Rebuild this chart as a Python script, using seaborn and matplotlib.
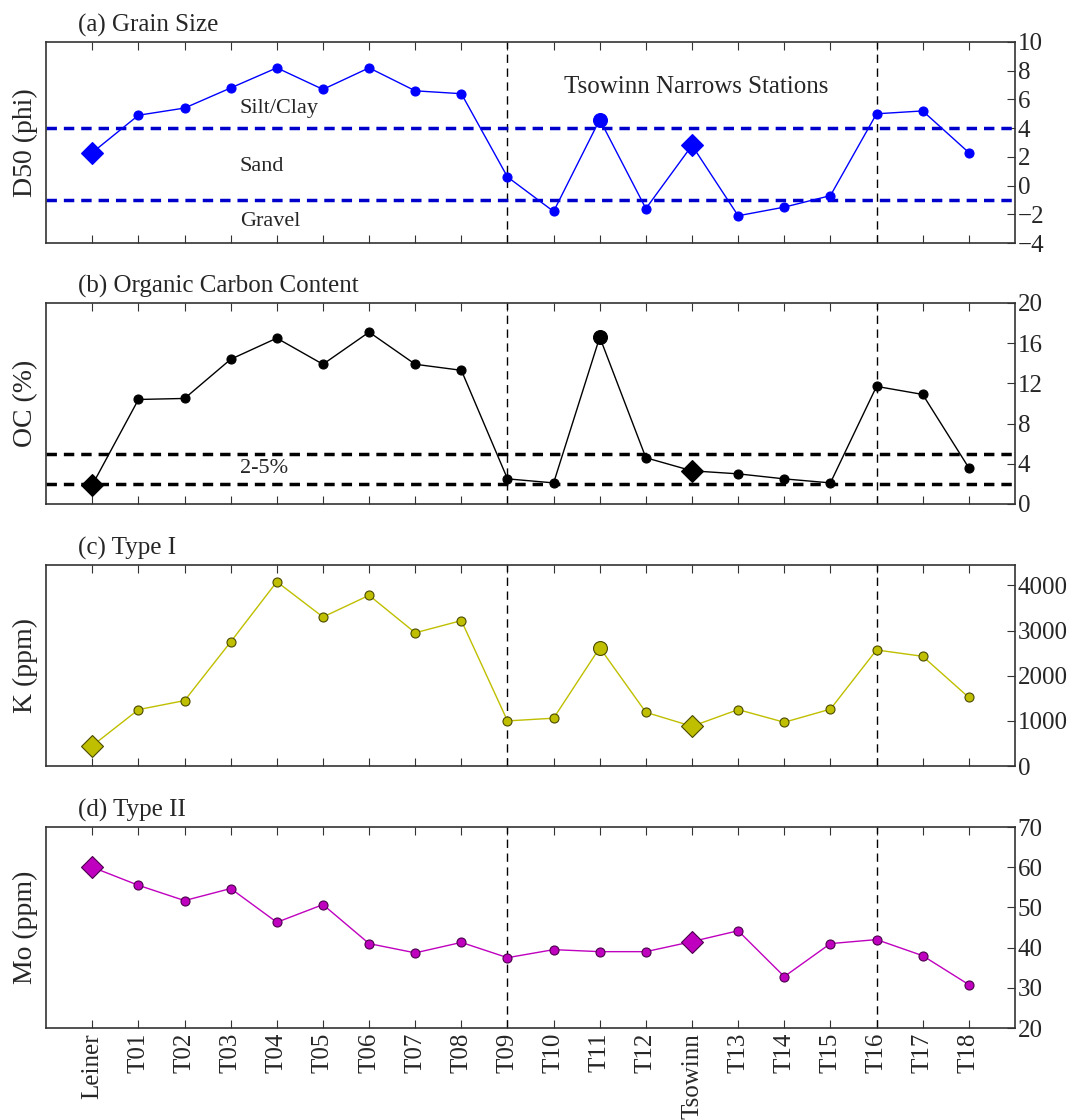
import numpy as np
import pandas as pd
import matplotlib
matplotlib.use("Agg")
import matplotlib.pyplot as plt
import seaborn as sns

# Estaciones (eje x)
stations = ["Leiner", "T01", "T02", "T03", "T04", "T05", "T06", "T07", "T08", "T09",
            "T10", "T11", "T12", "Tsowinn", "T13", "T14", "T15", "T16", "T17", "T18"]

# Valores
d50 = [2.3, 4.9, 5.4, 6.8, 8.2, 6.7, 8.2, 6.6, 6.4, 0.6,
       -1.8, 4.6, -1.6, 2.8, -2.1, -1.5, -0.7, 5.0, 5.2, 2.3]
oc = [1.9, 10.4, 10.5, 14.4, 16.5, 13.9, 17.1, 13.9, 13.3, 2.5,
      2.1, 16.6, 4.6, 3.3, 3.0, 2.5, 2.1, 11.7, 10.9, 3.6]
k_ppm = [450, 1250, 1450, 2750, 4080, 3300, 3780, 2950, 3220, 1000,
         1060, 2620, 1190, 880, 1250, 970, 1260, 2570, 2430, 1520]
mo_ppm = [60.0, 55.5, 51.7, 54.7, 46.3, 50.7, 41.0, 38.7, 41.3, 37.5,
          39.5, 39.0, 39.0, 41.5, 44.2, 32.8, 41.0, 42.0, 38.0, 30.8]

diamond_st = ["Leiner", "Tsowinn"]   # estaciones de referencia
big_st = ["T11"]                      # estacion destacada (paneles a-c)
vline_st = ["T09", "T16"]             # limites Tsowinn Narrows

sns.set_style("white")
plt.rcParams['font.family'] = ['Liberation Serif', 'DejaVu Serif']
plt.rcParams['mathtext.fontset'] = 'stix'

df = pd.DataFrame({'station': stations, 'x': np.arange(len(stations)),
                   'd50': d50, 'oc': oc, 'k': k_ppm, 'mo': mo_ppm})

fig = plt.figure(figsize=(10.74, 11.2), dpi=100)
L, W = 0.043, 0.902
tops = [0.9625, 0.7295, 0.4955, 0.2616]
H = 0.1795

panels = [
    ('d50', '(a) Grain Size', 'D50 (phi)', 'b', 'b', (-4, 10), np.arange(-4, 11, 2), True),
    ('oc', '(b) Organic Carbon Content', 'OC (%)', 'k', 'k', (0, 20), np.arange(0, 21, 4), True),
    ('k', '(c) Type I', 'K (ppm)', 'y', '#4a4a00', (0, 4450), np.arange(0, 4001, 1000), True),
    ('mo', '(d) Type II', 'Mo (ppm)', 'm', '#4a004a', (20, 70), np.arange(20, 71, 10), False),
]

for i, (col, title, ylab, c, ec, ylim, yt, show_big) in enumerate(panels):
    ax = fig.add_axes([L, tops[i] - H, W, H])
    big_here = big_st if show_big else []
    normal = df[~df.station.isin(diamond_st + big_here)]
    sns.lineplot(data=df, x='x', y=col, color=c, lw=1.0, ax=ax, zorder=2)
    ax.plot(normal.x, normal[col], 'o', color=c, mec=ec, mew=0.8, ms=6.5, zorder=3)
    dia = df[df.station.isin(diamond_st)]
    ax.plot(dia.x, dia[col], 'D', color=c, mec=ec, mew=0.8, ms=11, zorder=3)
    big = df[df.station.isin(big_here)]
    ax.plot(big.x, big[col], 'o', color=c, mec=ec, mew=0.8, ms=10, zorder=3)

    for s in vline_st:
        ax.axvline(stations.index(s), color='k', ls=(0, (6, 4)), lw=1.0, zorder=1)

    ax.set_xlim(-1, len(stations))
    ax.set_ylim(*ylim)
    ax.set_yticks(yt)
    ax.yaxis.tick_right()
    ax.yaxis.set_label_position('left')
    ax.set_ylabel(ylab, fontsize=20, labelpad=6)
    ax.set_xlabel('')
    ax.set_xticks(df.x)
    if i == 3:
        ax.set_xticklabels(stations, rotation=90, fontsize=18)
    else:
        ax.set_xticklabels([])
    ax.tick_params(axis='x', direction='in', top=True, bottom=True, length=6, width=0.8, color='#333333')
    ax.tick_params(axis='y', direction='in', right=True, left=False, length=6, width=0.8,
                   labelsize=18, pad=2, color='#333333')
    for sp in ax.spines.values():
        sp.set_color('#333333')
        sp.set_linewidth(1.2)
    ax.text(0.033, 1.025, title, transform=ax.transAxes, fontsize=18, ha='left', va='bottom')

    if col == 'd50':
        for yv in (4, -1):
            ax.axhline(yv, color='#0000cc', ls=(0, (3, 2)), lw=2.5, zorder=1)
        ax.text(3.2, 5.4, 'Silt/Clay', fontsize=16, ha='left', va='center')
        ax.text(3.2, 1.3, 'Sand', fontsize=16, ha='left', va='center')
        ax.text(3.2, -2.5, 'Gravel', fontsize=16, ha='left', va='center')
        ax.text(13.1, 6.9, 'Tsowinn Narrows Stations', fontsize=18, ha='center', va='center')
    if col == 'oc':
        for yv in (2, 5):
            ax.axhline(yv, color='k', ls=(0, (3, 2)), lw=2.5, zorder=1)
        ax.text(3.2, 3.5, '2-5%', fontsize=16, ha='left', va='center')

fig.savefig('out.png', dpi=100)
